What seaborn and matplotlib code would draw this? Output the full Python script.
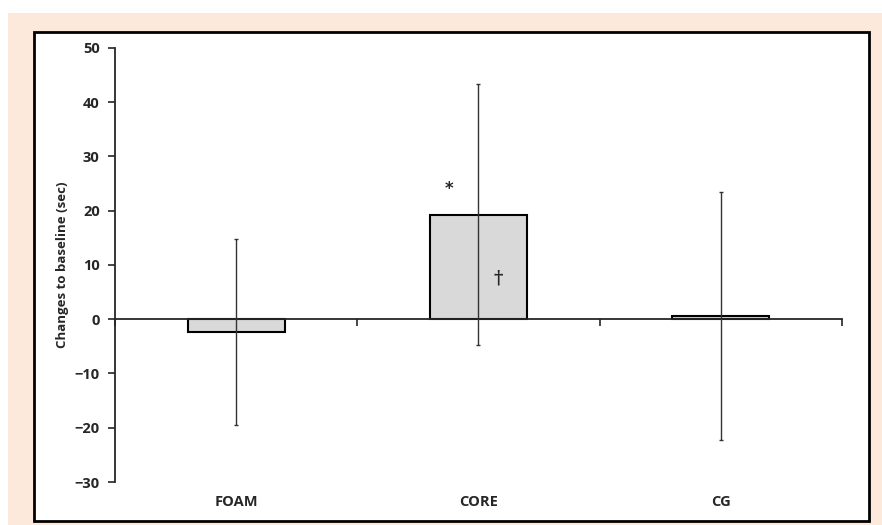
import matplotlib
matplotlib.use("Agg")
import matplotlib.pyplot as plt
import matplotlib.transforms as mtransforms
from matplotlib.patches import Rectangle
import seaborn as sns
import pandas as pd
import numpy as np

groups = ["FOAM", "CORE", "CG"]
means = [-2.4, 19.3, 0.6]
sds = [17.1, 24.0, 22.9]
star_mark = ("*", 0.88, 24.0)
dagger_mark = ("\u2020", 1.08, 7.5)

df = pd.DataFrame({"Group": groups, "Change": means})

sns.set_style("white")
plt.rcParams["font.family"] = ["Open Sans", "DejaVu Sans"]

fig = plt.figure(figsize=(8.82, 5.25), dpi=100)
fig.patch.set_facecolor("white")

# peach background and black frame
fig.patches.append(Rectangle((0.009, 0.0), 0.991, 0.975, transform=fig.transFigure,
                             facecolor="#FCE9DB", edgecolor="none", zorder=-3))
fig.patches.append(Rectangle((0.0385, 0.0076), 0.9468, 0.9314, transform=fig.transFigure,
                             facecolor="white", edgecolor="black", linewidth=2, zorder=-2))

ax = fig.add_axes([0.1304, 0.0819, 0.8242, 0.8267])
ax.patch.set_alpha(0)

sns.barplot(data=df, x="Group", y="Change", ax=ax, color="#D9D9D9",
            edgecolor="black", linewidth=1.5, width=0.4, errorbar=None, saturation=1)
ax.errorbar(np.arange(len(groups)), means, yerr=sds, fmt="none",
            ecolor="#333333", elinewidth=1, capsize=1.5, zorder=5)

ax.set_xlim(-0.5, 2.5)
ax.set_ylim(-30, 50)
ax.set_yticks(range(-30, 51, 10))
ax.tick_params(axis="y", left=True, direction="out", length=5, width=1.2,
               labelsize=10.5, pad=6)
for lab in ax.get_yticklabels():
    lab.set_fontweight("bold")

for s in ["top", "right"]:
    ax.spines[s].set_visible(False)
ax.spines["left"].set_linewidth(1.3)
ax.spines["bottom"].set_position(("data", 0))
ax.spines["bottom"].set_linewidth(1.3)

# ticks at category boundaries on the zero line, labels at the bottom
ax.set_xticks([-0.5, 0.5, 1.5, 2.5])
ax.set_xticklabels([])
ax.tick_params(axis="x", bottom=True, direction="out", length=5, width=1.2)
ax.set_xlabel("")
trans = mtransforms.blended_transform_factory(ax.transData, ax.transAxes)
for i, g in enumerate(groups):
    ax.text(i, -0.045, g, transform=trans, ha="center", va="center",
            fontsize=10.5, fontweight="bold")

ax.set_ylabel("Changes to baseline (sec)", fontsize=9.5, fontweight="bold", labelpad=4)

ax.text(star_mark[1], star_mark[2], star_mark[0], ha="center", va="center", fontsize=12,
        fontweight="bold", family=["DejaVu Sans"])
ax.text(dagger_mark[1], dagger_mark[2], dagger_mark[0], ha="center", va="center", fontsize=13,
        fontweight="bold", family=["DejaVu Serif"])

fig.savefig("out.png", dpi=100)
